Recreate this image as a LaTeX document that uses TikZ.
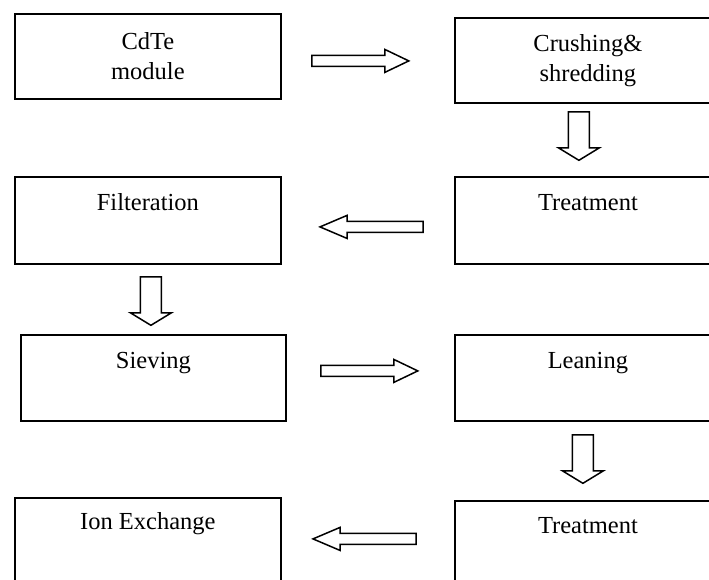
\documentclass[tikz,border=0pt]{standalone}
\usepackage{fontspec}
\setmainfont{Liberation Serif}
\usetikzlibrary{calc}
\begin{document}
\begin{tikzpicture}[x=1pt,y=1pt,
  box/.style={draw, line width=1.8pt, minimum width=266pt, anchor=north west, inner sep=0pt},
  txt/.style={font=\fontsize{24.5}{30}\selectfont, align=center, inner sep=0pt},
  blk/.style={draw, line width=1.5pt, fill=white, line join=miter},
  pics/rarr/.style={code={\draw[blk] (0,5.5) -- (73,5.5) -- (73,11.5) -- (97,0) -- (73,-11.5) -- (73,-5.5) -- (0,-5.5) -- cycle;}},
  pics/larr/.style={code={\draw[blk] (0,5.5) -- (-76,5.5) -- (-76,11.5) -- (-103,0) -- (-76,-11.5) -- (-76,-5.5) -- (0,-5.5) -- cycle;}},
  pics/darr/.style={code={\draw[blk] (-10.5,0) -- (10.5,0) -- (10.5,-36) -- (20.5,-36) -- (0,-48.5) -- (-20.5,-36) -- (-10.5,-36) -- cycle;}},
]
\useasboundingbox (0,0) rectangle (709,-579);
\clip (0,0) rectangle (709,-579);
\fill[white] (0,0) rectangle (709,-579);

% boxes
\node[box, minimum height=85pt] (b1) at (14,-13) {};
\node[box, minimum height=85pt] (b2) at (454,-17) {};
\node[box, minimum height=87pt] (b3) at (454,-176) {};
\node[box, minimum height=87pt] (b4) at (14,-176) {};
\node[box, minimum width=265pt, minimum height=86pt] (b5) at (20,-334) {};
\node[box, minimum height=86pt] (b6) at (454,-334) {};
\node[box, minimum height=120pt] (b7) at (454,-500) {};
\node[box, minimum height=120pt] (b8) at (14,-497) {};

% texts
\node[txt] (t1) at (b1.center) {CdTe\\module};
\node[txt] (t2) at (b2.center) {Crushing\&\\shredding};
\node[txt, anchor=base] (t3) at ($(b3.north)+(0,-34)$) {Treatment};
\node[txt, anchor=base] (t4) at ($(b4.north)+(0,-34)$) {Filteration};
\node[txt, anchor=base] (t5) at ($(b5.north)+(0,-34)$) {Sieving};
\node[txt, anchor=base] (t6) at ($(b6.north)+(0,-34)$) {Leaning};
\node[txt, anchor=base] (t7) at ($(b7.north)+(0,-33)$) {Treatment};
\node[txt, anchor=base] (t8) at ($(b8.north)+(0,-32)$) {Ion Exchange};

% block arrows
\pic at ($(b1.east)+(30,-4.5)$) {rarr};
\pic at ($(b2.south)+(-9,-8)$) {darr};
\pic at ($(b3.west)+(-31,-6.5)$) {larr};
\pic at ($(b4.south)+(3,-12)$) {darr};
\pic at ($(b5.east)+(34,7)$) {rarr};
\pic at ($(b6.south)+(-5,-13)$) {darr};
\pic at ($(b7.west)+(-38,22)$) {larr};
\end{tikzpicture}
\end{document}
